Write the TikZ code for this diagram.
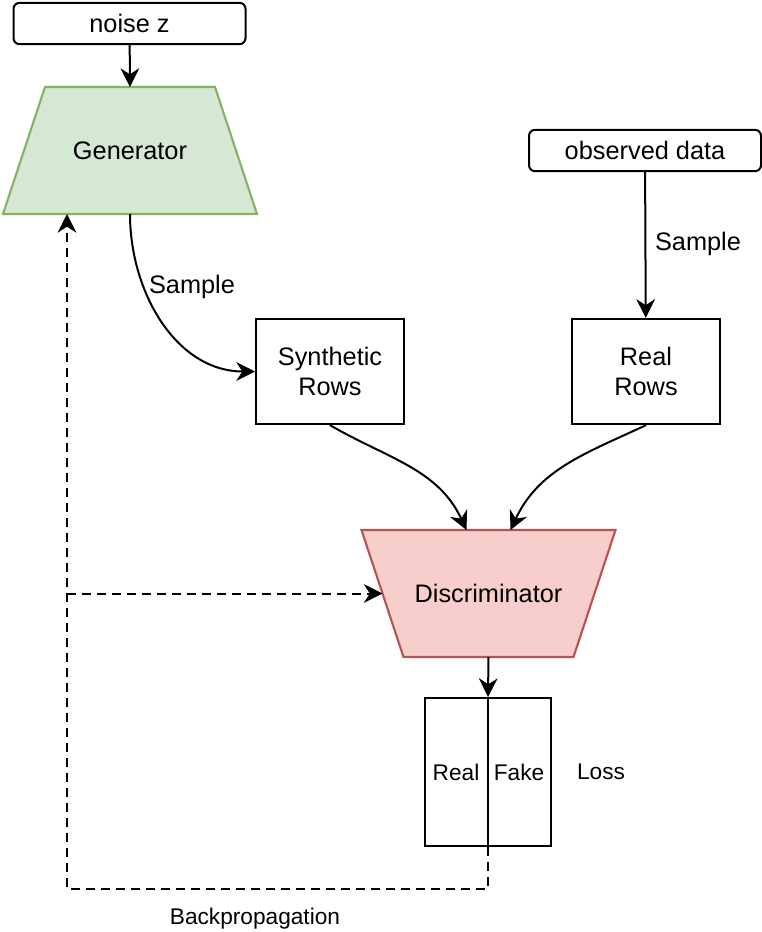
\documentclass[tikz,border=0pt]{standalone}
\usepackage{fontspec}
\setmainfont{Liberation Sans}
\usetikzlibrary{arrows.meta}
\usetikzlibrary{backgrounds}
\usetikzlibrary{calc}
\definecolor{genfill}{HTML}{D5E8D4}
\definecolor{gendraw}{HTML}{82B366}
\definecolor{discfill}{HTML}{F8CECC}
\definecolor{discdraw}{HTML}{B85450}
\tikzset{
  txt/.style={font=\fontsize{19pt}{23pt}\selectfont},
  small/.style={font=\fontsize{17pt}{20pt}\selectfont},
  input/.style={txt, draw, rounded corners=4.5pt, minimum width=174pt,
    minimum height=31pt, inner sep=0pt},
  rows/.style={txt, draw, align=center, minimum width=111pt,
    minimum height=79pt, inner sep=0pt},
  net/.style={txt, minimum width=190.5pt, minimum height=95.25pt,
    inner sep=0pt, outer sep=0pt},
  netshape/.style={line width=1.6pt, line join=miter},
  flow/.style={-{Stealth[length=14pt,width=14pt,inset=4.5pt]}},
  back/.style={flow, dash pattern=on 6.75pt off 4.5pt}
}

\begin{document}
\begin{tikzpicture}[x=0.75pt,y=0.75pt,line width=1.5pt]
\useasboundingbox (0,0) rectangle (761,-932);
\node[input] (noise) at (129.5,-23.5) {noise z};
\node[input] (obs) at (645,-150.5) {observed data};
\node[net] (gen) at (130,-150.5) {Generator};
\node[net] (disc) at (488.5,-593.5) {Discriminator};
\begin{scope}[on background layer]
\draw[netshape, fill=genfill, draw=gendraw] (gen.south west) -- (gen.south east)
  -- ($(gen.north east)+(-42,0)$) -- ($(gen.north west)+(42,0)$) -- cycle;
\draw[netshape, fill=discfill, draw=discdraw] (disc.north west) -- (disc.north east)
  -- ($(disc.south east)+(-42,0)$) -- ($(disc.south west)+(42,0)$) -- cycle;
\end{scope}
\node[rows] (syn) at (330,-371.5) {Synthetic\\Rows};
\node[rows] (real) at (646,-371.5) {Real\\Rows};
\node[draw, minimum width=95pt, minimum height=111pt] (loss) at (488,-772) {};
\node[small] (lreal) at (456,-772) {Real};
\node[small] (lfake) at (519,-772) {Fake};
\node[small] (lname) at (601,-772) {Loss};
\node[txt] (samp1) at (192,-287) {Sample};
\node[txt] (samp2) at (698,-244) {Sample};
\node[small] (bp) at (255,-919) {Backpropagation};
\coordinate (genfoot) at ($(gen.south)+(-63,0)$);
\coordinate (discin) at ($(disc.west)+(21,0)$);
\draw[flow] (noise) -- (gen.north);
\draw[flow] (obs) -- (real);
\draw[flow] (gen.south) to[out=-90,in=180] (syn.west);
\draw[flow] (syn.south) to[out=-30,in=115] ($(disc.north)+(-22,0)$);
\draw[flow] (real.south) to[out=-155,in=65] ($(disc.north)+(22,0)$);
\draw[flow] (disc.south) -- (loss.north);
\draw (loss.north) -- (loss.south);
\draw[back] (loss.south) -- ++(0,-42) -| (genfoot);
\draw[back] (genfoot |- discin) -- (discin);
\end{tikzpicture}
\end{document}
